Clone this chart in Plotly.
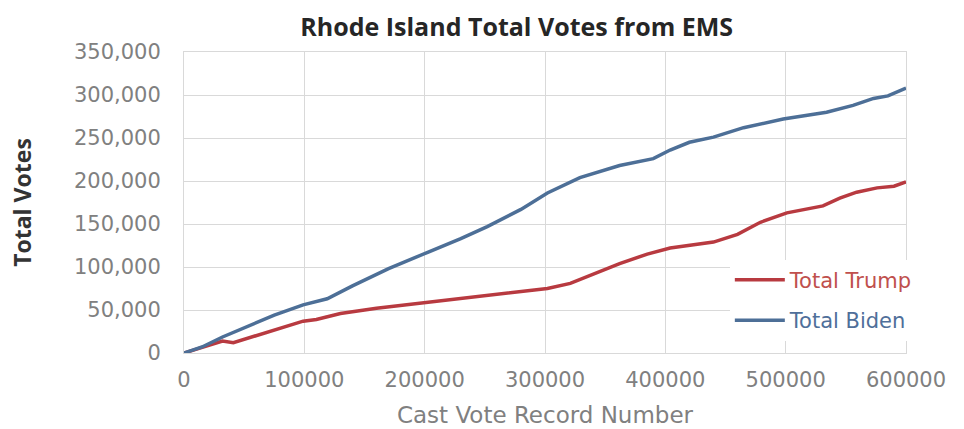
import plotly.graph_objects as go

# Cast vote record number (x) and cumulative totals
biden_x = [0, 15000, 32000, 50000, 75000, 99000, 119000, 140000, 170000, 204000,
           230000, 252000, 280000, 302000, 329000, 362000, 390000, 404000, 420000,
           440000, 465000, 498000, 534000, 556000, 573000, 585000, 600000]
biden_y = [0, 7000, 18600, 29000, 44000, 56000, 63000, 78000, 98000, 118000,
           133000, 147000, 167000, 186000, 204000, 218000, 226000, 236000, 245000,
           251000, 262000, 272000, 280000, 288000, 296000, 299000, 308000]

trump_x = [0, 15000, 32000, 41000, 60000, 80000, 99000, 110000, 130000, 160000,
           204000, 252000, 302000, 321000, 340000, 362000, 385000, 404000, 440000,
           460000, 479000, 501000, 531000, 545000, 559000, 576000, 590000, 600000]
trump_y = [0, 7000, 14000, 12000, 20000, 29000, 37000, 39000, 46000, 52000,
           59000, 67000, 75000, 81000, 92000, 104000, 115000, 122000, 129000,
           138000, 152000, 163000, 171000, 180000, 187000, 192000, 194000, 199000]

y_ticks = [0, 50000, 100000, 150000, 200000, 250000, 300000, 350000]
x_ticks = [0, 100000, 200000, 300000, 400000, 500000, 600000]

TRUMP_C = "#b83a40"
BIDEN_C = "#4d6f97"

fig = go.Figure()
fig.add_trace(go.Scatter(
    x=trump_x, y=trump_y, mode="lines", legendgroup="t",
    name="<span style='color:#c0504d'>Total Trump</span>",
    line=dict(color=TRUMP_C, width=3.5)))
fig.add_trace(go.Scatter(
    x=biden_x, y=biden_y, mode="lines", legendgroup="b",
    name="<span style='color:#4f6f9a'>Total Biden</span>",
    line=dict(color=BIDEN_C, width=3.5)))

grey = "#808080"
grid = "#d9d9d9"
fig.update_layout(
    width=964, height=429,
    paper_bgcolor="white", plot_bgcolor="white",
    margin=dict(l=184, r=58, t=52, b=76, autoexpand=False),
    title=dict(text="<b>Rhode Island Total Votes from EMS</b>",
               x=0.536, xanchor="center", y=0.937, yanchor="middle",
               font=dict(family="Open Sans", size=25, color="#262626")),
    xaxis=dict(range=[0, 600000], tickvals=x_ticks, tickformat="d",
               automargin=False,
               showgrid=True, gridcolor=grid, gridwidth=1,
               zeroline=False, showline=True, linecolor=grid, mirror=True,
               tickfont=dict(family="DejaVu Sans", size=21, color=grey),
               ticks="outside", ticklen=8, tickcolor="rgba(0,0,0,0)",
               title=dict(text="Cast Vote Record Number", standoff=15,
                          font=dict(family="DejaVu Sans", size=23, color=grey))),
    yaxis=dict(range=[0, 350000], tickvals=y_ticks, tickformat=",",
               automargin=False,
               showgrid=True, gridcolor=grid, gridwidth=1,
               zeroline=False, showline=True, linecolor=grid, mirror=True,
               tickfont=dict(family="DejaVu Sans", size=21, color=grey),
               ticks="outside", ticklen=18, tickcolor="rgba(0,0,0,0)",
               title=dict(text="<b>Total Votes</b>", standoff=35,
                          font=dict(family="Open Sans", size=23, color="#333333"))),
    legend=dict(x=0.756, y=0.31, xanchor="left", yanchor="top",
                bgcolor="white", borderwidth=0,
                font=dict(family="DejaVu Sans", size=21),
                tracegroupgap=10, itemwidth=50),
    showlegend=True,
)

fig.write_html("out.html", post_script="document.body.style.margin='0';",
               config={"displayModeBar": False})
